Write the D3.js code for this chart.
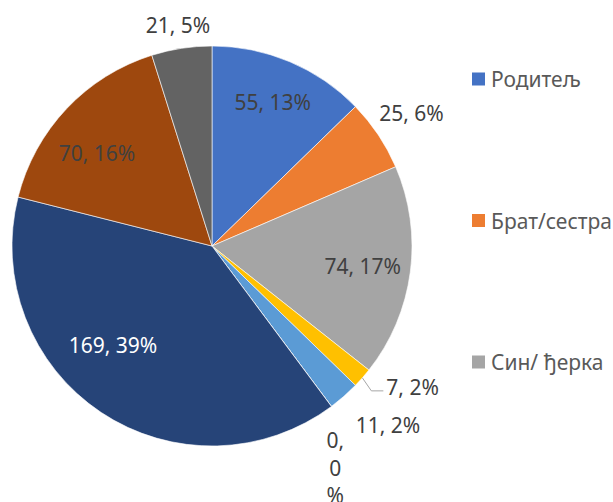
<!DOCTYPE html>
<html>
<head>
<meta charset="utf-8">
<script src="https://cdn.jsdelivr.net/npm/d3@7"></script>
<style>
  html, body { margin: 0; padding: 0; background: #fff; }
  svg { display: block; font-family: "Noto Sans", "Open Sans", sans-serif; }
</style>
</head>
<body>
<div id="chart"></div>
<script>
// slice values, clockwise from 12 o'clock
var values = [55, 25, 74, 7, 11, 0, 169, 70, 21];
// percentages as printed on the labels
var percents = [13, 6, 17, 2, 2, 0, 39, 16, 5];
// legend entries that are visible in the picture
var legendNames = ["Родитељ", "Брат/сестра", "Син/ ђерка"];
var colors = ["#4472C4", "#ED7D31", "#A5A5A5", "#FFC000", "#5B9BD5",
              "#70AD47", "#264478", "#9E480E", "#636363"];

var width = 613, height = 502;
var cx = 212, cy = 246, radius = 200;

// label placement: [radius factor, angle in degrees (null = slice middle), anchor]
var labelLayout = [
  [0.78, null, "middle"],
  [1.2, null, "middle"],
  [0.76, null, "middle"],
  [null, null, "start"],   // leader line label
  [1.255, 135.5, "middle"],
  [1.15, 147.6, "middle"], // wrapped zero label
  [0.7, 225, "middle"],
  [0.74, 309, "middle"],
  [1.12, null, "middle"]
];

var svg = d3.select("#chart").append("svg")
  .attr("width", width)
  .attr("height", height);

var g = svg.append("g")
  .attr("transform", "translate(" + cx + "," + cy + ")");

var pie = d3.pie().sort(null).value(function (d) { return d; });
var arcs = pie(values);
var arcGen = d3.arc().innerRadius(0).outerRadius(radius);

g.selectAll("path.slice")
  .data(arcs)
  .enter()
  .append("path")
  .attr("class", "slice")
  .attr("d", arcGen)
  .attr("fill", function (d, i) { return colors[i]; })
  .attr("stroke", "#fff")
  .attr("stroke-width", 0.6);

function polar(r, deg) {
  var a = deg * Math.PI / 180;
  return [r * Math.sin(a), -r * Math.cos(a)];
}
function midDeg(d) {
  return (d.startAngle + d.endAngle) / 2 * 180 / Math.PI;
}

var labels = g.append("g").attr("class", "labels");

arcs.forEach(function (d, i) {
  var text = values[i] + ", " + percents[i] + "%";
  var lay = labelLayout[i];
  var fill = i === 6 ? "#ffffff" : "#404040";
  if (i === 3) {
    // small slice: leader line out to the right
    var p0 = polar(radius, midDeg(d));
    var p1 = [p0[0] + 9, p0[1] + 13];
    var p2 = [p1[0] + 12, p1[1]];
    labels.append("polyline")
      .attr("points", [p0, p1, p2].join(" "))
      .attr("fill", "none")
      .attr("stroke", "#A6A6A6")
      .attr("stroke-width", 1);
    labels.append("text")
      .attr("x", p2[0] + 3)
      .attr("y", p2[1] - 4)
      .attr("dominant-baseline", "central")
      .attr("text-anchor", "start")
      .attr("font-size", 21)
      .attr("fill", fill)
      .text(text);
    return;
  }
  var p = polar(radius * lay[0], lay[1] == null ? midDeg(d) : lay[1]);
  var t = labels.append("text")
    .attr("x", p[0])
    .attr("y", p[1])
    .attr("dominant-baseline", "central")
    .attr("text-anchor", lay[2])
    .attr("font-size", 21)
    .attr("fill", fill);
  if (i === 5) {
    // narrow label box wraps the text
    var parts = [values[i] + ",", String(percents[i]), "%"];
    parts.forEach(function (s, k) {
      t.append("tspan").attr("x", p[0]).attr("dy", k === 0 ? 0 : 27.5).text(s);
    });
  } else {
    t.text(text);
  }
});

// legend
var legend = svg.append("g").attr("class", "legend");
var legendY = d3.scalePoint().domain(legendNames).range([79, 362]);
legendNames.forEach(function (name, i) {
  var y = legendY(name);
  legend.append("rect")
    .attr("x", 472)
    .attr("y", y - 6.5)
    .attr("width", 13)
    .attr("height", 13)
    .attr("fill", colors[i]);
  legend.append("text")
    .attr("x", 491)
    .attr("y", y)
    .attr("dominant-baseline", "central")
    .attr("font-size", 21)
    .attr("fill", "#595959")
    .text(name);
});
</script>
</body>
</html>
